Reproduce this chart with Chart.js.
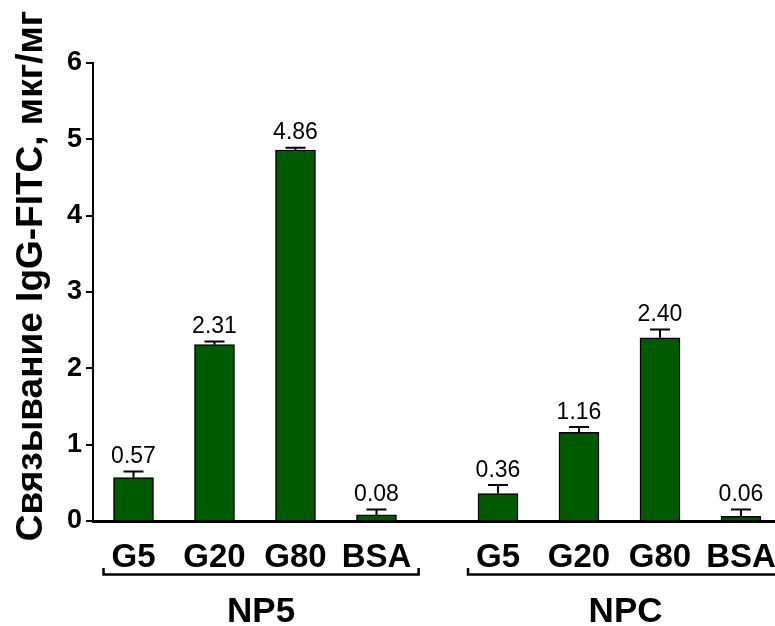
<!DOCTYPE html>
<html>
<head>
<meta charset="utf-8">
<title>Связывание IgG-FITC</title>
<script src="https://cdn.jsdelivr.net/npm/chart.js@4/dist/chart.umd.min.js"></script>
<style>
  html, body { margin: 0; padding: 0; background: #fff; }
  canvas { display: block; }
</style>
</head>
<body>
<canvas id="chart" width="775" height="626"></canvas>
<script>
// Antibody (IgG-FITC) binding per nanoparticle group, mean ± error
const categories = ['G5', 'G20', 'G80', 'BSA'];
const groups = ['NP5', 'NPC'];
const np5Values = [0.57, 2.31, 4.86, 0.08];
const npcValues = [0.36, 1.16, 2.40, 0.06];
const np5Errors = [0.08, 0.04, 0.03, 0.07];
const npcErrors = [0.11, 0.07, 0.11, 0.09];
const yTicks = [0, 1, 2, 3, 4, 5, 6];
const yTitle = 'Связывание IgG-FITC, мкг/мг';

// Layout: each group takes 4 slots, groups separated by an extra half-slot gap
const GROUP_STEP = 4.5;
const groupValues = [np5Values, npcValues];
const groupErrors = [np5Errors, npcErrors];

const points = [];
const errors = [];
const tickPositions = [];
const tickLabels = {};
groups.forEach((g, gi) => {
  categories.forEach((c, ci) => {
    const pos = gi * GROUP_STEP + ci;
    points.push({ x: pos, y: groupValues[gi][ci] });
    errors.push(groupErrors[gi][ci]);
    tickPositions.push(pos);
    tickLabels[pos] = c;
  });
});

const FONT = '"Liberation Sans", Arial, Helvetica, sans-serif';
Chart.defaults.font.family = FONT;
Chart.defaults.color = '#000';

const annotate = {
  id: 'annotate',
  afterDatasetsDraw(chart) {
    const { ctx, scales: { x, y } } = chart;
    ctx.save();
    ctx.strokeStyle = '#000';
    ctx.fillStyle = '#000';
    ctx.lineWidth = 2;
    ctx.font = '23px ' + FONT;
    ctx.textAlign = 'center';
    ctx.textBaseline = 'alphabetic';
    points.forEach((p, i) => {
      const px = x.getPixelForValue(p.x);
      const yBar = y.getPixelForValue(p.y);
      const yTop = y.getPixelForValue(p.y + errors[i]);
      ctx.beginPath();
      ctx.moveTo(px, yBar);
      ctx.lineTo(px, yTop);
      ctx.moveTo(px - 10, yTop);
      ctx.lineTo(px + 10, yTop);
      ctx.stroke();
      ctx.fillText(p.y.toFixed(2), px, yTop - 8.5);
    });
    ctx.restore();
  },
  afterDraw(chart) {
    const { ctx, chartArea, scales: { x } } = chart;
    ctx.save();
    // group brackets and names
    ctx.strokeStyle = '#000';
    ctx.fillStyle = '#000';
    ctx.lineWidth = 2.5;
    ctx.lineJoin = 'miter';
    const yTick = chartArea.bottom + 47;
    const yLine = chartArea.bottom + 53.5;
    ctx.font = 'bold 35px ' + FONT;
    ctx.textAlign = 'center';
    ctx.textBaseline = 'alphabetic';
    groups.forEach((g, gi) => {
      const x0 = x.getPixelForValue(gi * GROUP_STEP - 0.37);
      const x1 = x.getPixelForValue(gi * GROUP_STEP + categories.length - 0.48);
      ctx.beginPath();
      ctx.moveTo(x0, yTick);
      ctx.lineTo(x0, yLine);
      ctx.lineTo(x1, yLine);
      ctx.lineTo(x1, yTick);
      ctx.stroke();
      ctx.fillText(g, (x0 + x1) / 2, chartArea.bottom + 100.5);
    });
    // rotated y-axis title
    ctx.translate(41.5, 276);
    ctx.rotate(-Math.PI / 2);
    ctx.font = 'bold 37px ' + FONT;
    ctx.fillText(yTitle, 0, 0);
    ctx.restore();
  }
};

new Chart(document.getElementById('chart'), {
  type: 'bar',
  data: {
    datasets: [{
      data: points,
      backgroundColor: '#005a00',
      borderColor: '#000',
      borderWidth: 1.5,
      borderSkipped: 'bottom',
      barThickness: 40
    }]
  },
  options: {
    responsive: false,
    animation: false,
    devicePixelRatio: 1,
    layout: { padding: { top: 63, left: 0, right: 0, bottom: 0 } },
    plugins: { legend: { display: false }, tooltip: { enabled: false } },
    scales: {
      x: {
        type: 'linear',
        position: 'bottom',
        min: -0.5,
        max: 7.92,
        offset: false,
        grid: { display: false },
        border: { display: true, color: '#000', width: 3 },
        afterBuildTicks(scale) {
          scale.ticks = tickPositions.map(v => ({ value: v }));
        },
        afterFit(scale) {
          scale.height = 105;
          scale.paddingLeft = 0;
          scale.paddingRight = 0;
        },
        ticks: {
          autoSkip: false,
          maxRotation: 0,
          padding: 9,
          color: '#000',
          font: { size: 33, weight: 'bold' },
          callback: (v) => tickLabels[v]
        }
      },
      y: {
        min: 0,
        max: 6,
        grid: {
          display: true,
          drawOnChartArea: false,
          drawTicks: true,
          tickLength: 7,
          color: '#000',
          lineWidth: 2
        },
        border: { display: true, color: '#000', width: 2 },
        afterBuildTicks(scale) {
          scale.ticks = yTicks.map(v => ({ value: v }));
        },
        afterFit(scale) {
          scale.width = 93;
        },
        ticks: {
          padding: 4,
          color: '#000',
          font: { size: 27, weight: 'bold' }
        }
      }
    }
  },
  plugins: [annotate]
});
</script>
</body>
</html>
